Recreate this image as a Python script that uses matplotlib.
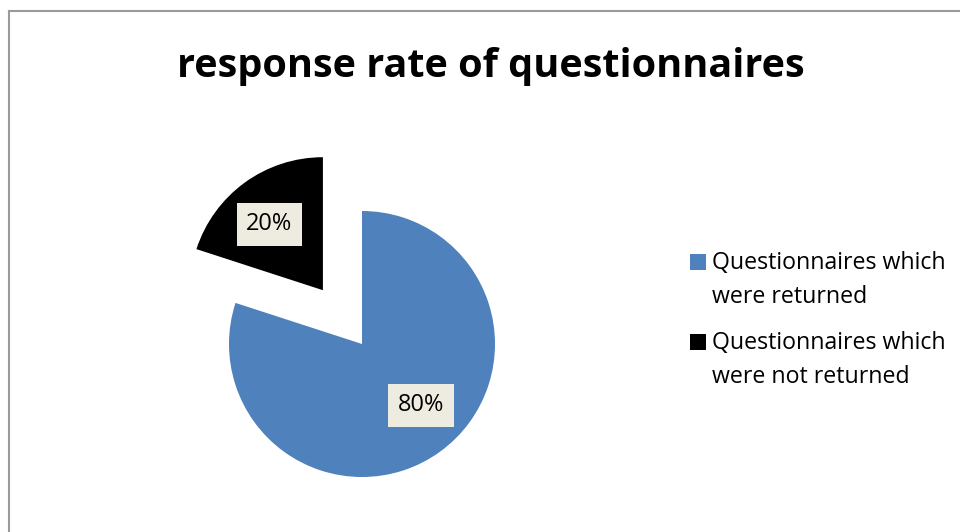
import numpy as np
import matplotlib.pyplot as plt
from matplotlib.lines import Line2D
from matplotlib.patches import Rectangle

title = "response rate of questionnaires"
categories = ["Questionnaires which\nwere returned", "Questionnaires which\nwere not returned"]
values = [80, 20]
colors = ["#4F81BD", "#000000"]

W, H = 960, 532
fig = plt.figure(figsize=(W / 100, H / 100), dpi=100)
fig.patch.set_facecolor("white")

# chart border (top and left edges visible in the source)
fig.add_artist(Line2D([9 / W, 9 / W], [0, 1 - 11 / H], color="#9A9A9A", lw=1.5))
fig.add_artist(Line2D([9 / W, 1], [1 - 11 / H, 1 - 11 / H], color="#9A9A9A", lw=1.5))

# pie axes: centre (362, 344) px, radius 133 px
cx, cy, r = 362, 344, 133
ax = fig.add_axes([(cx - r) / W, (H - cy - r) / H, 2 * r / W, 2 * r / H])
wedges, texts, autotexts = ax.pie(
    values, colors=colors, startangle=90, counterclock=False,
    explode=[0, 0.5], autopct="%d%%", pctdistance=0.65,
    wedgeprops={"clip_on": False, "linewidth": 0},
    textprops={"fontsize": 17, "family": "Open Sans", "color": "black"},
)
# nudge the labels the way Excel places them
ang = np.deg2rad(-46)
autotexts[0].set_position((0.64 * np.cos(ang), 0.64 * np.sin(ang)))
bx, by = autotexts[1].get_position()
autotexts[1].set_position((bx - 0.02, by - 0.03))
for t in autotexts:
    t.set_bbox(dict(facecolor="#EEECE1", edgecolor="none", pad=7))
ax.set_xlim(-1, 1)
ax.set_ylim(-1, 1)
ax.set_aspect("auto")
ax.axis("off")

fig.text(491 / W, 1 - 66 / H, title, ha="center", va="center",
         fontsize=28.5, fontweight="bold", family="Open Sans")

# legend
leg_y = [262, 342]
for lab, col, y in zip(categories, colors, leg_y):
    fig.add_artist(Rectangle((690 / W, 1 - (y + 8) / H), 16 / W, 16 / H,
                             facecolor=col, edgecolor="none"))
    fig.text(712 / W, 1 - (y - 11) / H, lab, ha="left", va="top",
             fontsize=16.7, family="Open Sans", linespacing=1.58)

fig.savefig("out.png", dpi=100)
